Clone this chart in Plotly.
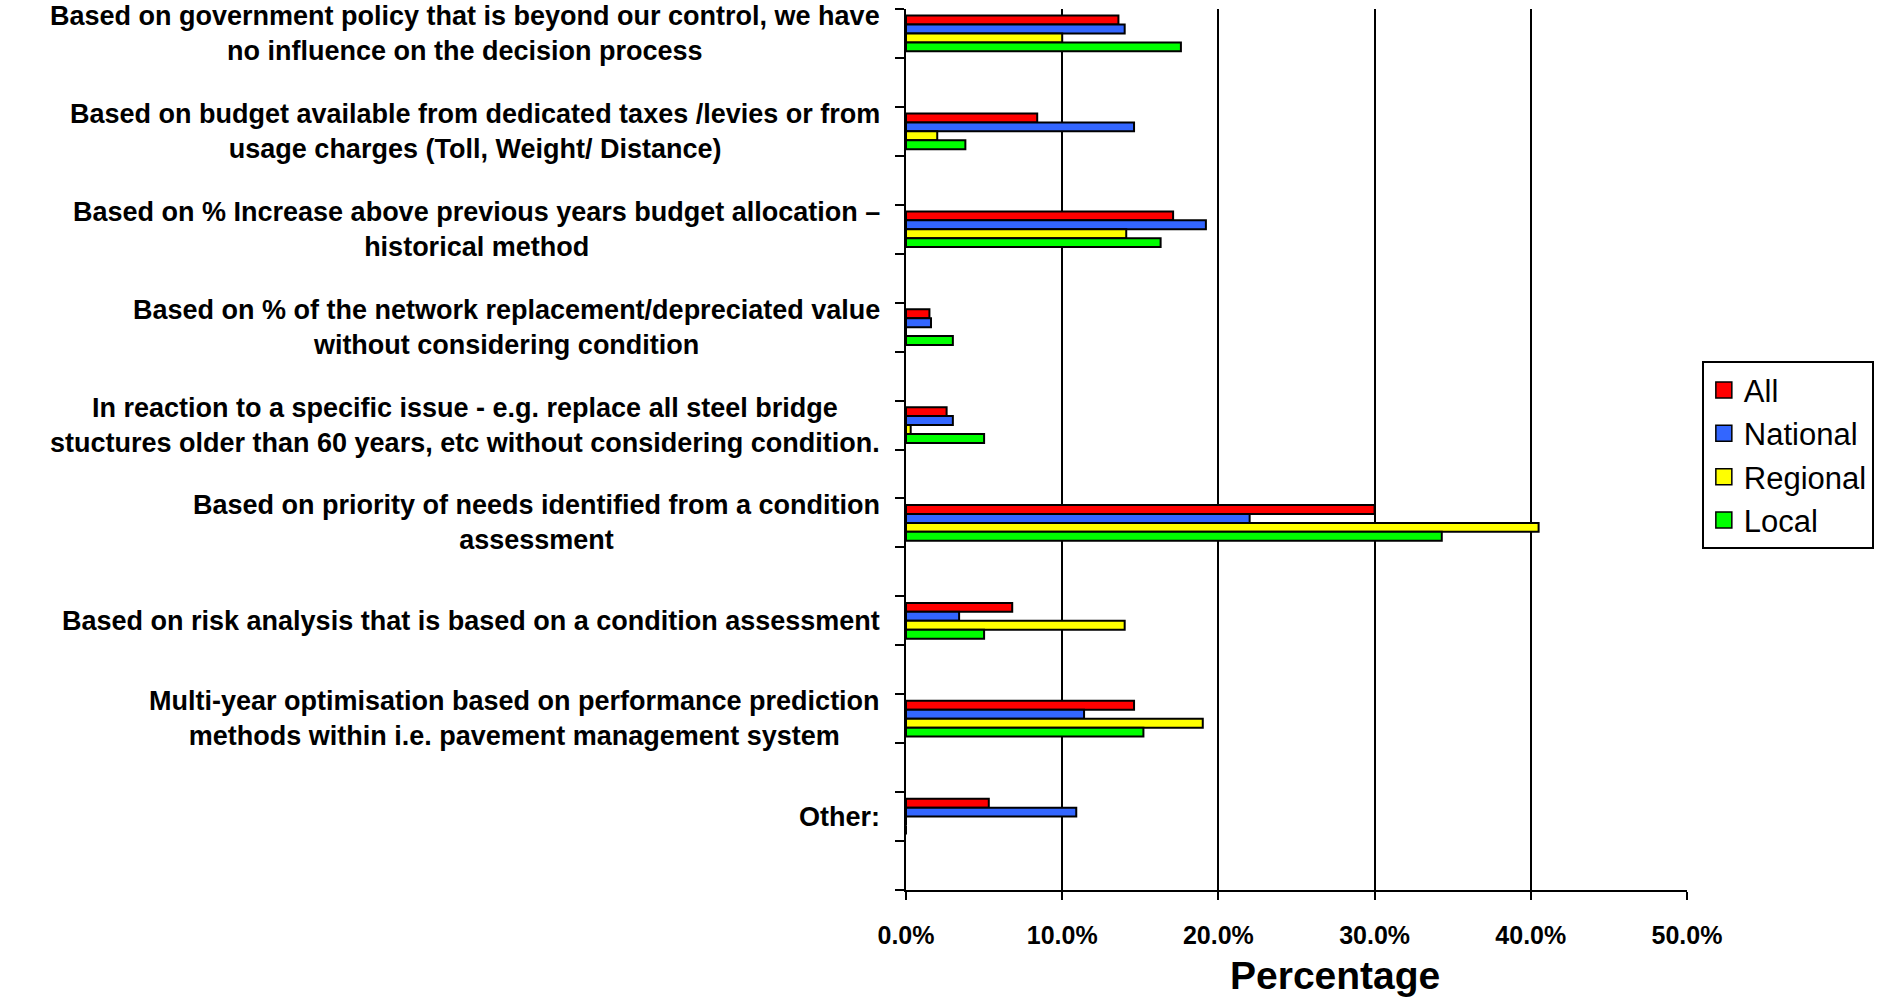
import plotly.graph_objects as go

# Budget allocation methods (one bar group per method)
methods = [
    "Based on government policy that is beyond our control, we have<br>no influence on the decision process",
    "Based on budget available from dedicated taxes /levies or from<br>usage charges (Toll, Weight/ Distance)",
    "Based on % Increase above previous years budget allocation –<br>historical method",
    "Based on % of the network replacement/depreciated value<br>without considering condition",
    "In reaction to a specific issue - e.g. replace all steel bridge<br>stuctures older than 60 years, etc without considering condition.",
    "Based on priority of needs identified from a condition<br>assessment",
    "Based on risk analysis that is based on a condition assessment",
    "Multi-year optimisation based on performance prediction<br>methods within i.e. pavement management system",
    "Other:",
]

# Share of respondents (%) per road-authority level
all_pct      = [13.6, 8.4, 17.1, 1.5, 2.6, 30.0, 6.8, 14.6, 5.3]
national_pct = [14.0, 14.6, 19.2, 1.6, 3.0, 22.0, 3.4, 11.4, 10.9]
regional_pct = [10.0, 2.0, 14.1, 0.0, 0.3, 40.5, 14.0, 19.0, 0.0]
local_pct    = [17.6, 3.8, 16.3, 3.0, 5.0, 34.3, 5.0, 15.2, 0.0]

series_names = ["All", "National", "Regional", "Local"]
series_values = [all_pct, national_pct, regional_pct, local_pct]
series_colors = ["#FF0000", "#3366FF", "#FFFF00", "#00FF00"]

x_ticks = [0, 10, 20, 30, 40, 50]
x_ticktext = [f"{v:.1f}%" for v in x_ticks]

FONT = "Liberation Sans, Arial, sans-serif"

# each method occupies a slot, with an empty slot after it
slots = [2 * i for i in range(len(methods))]
n_slots = 2 * len(methods)

fig = go.Figure()
for name, vals, col in zip(series_names, series_values, series_colors):
    fig.add_trace(go.Bar(
        y=slots, x=vals, orientation="h", name=name,
        marker=dict(color=col, line=dict(color="black", width=2)),
        showlegend=False,
    ))
    # legend entry with a larger swatch
    fig.add_trace(go.Scatter(
        x=[None], y=[None], mode="markers", name=name,
        marker=dict(symbol="square", size=16, color=col,
                    line=dict(color="black", width=1.5)),
    ))

# category labels, centred lines, right-aligned against the axis
for s, label in zip(slots, methods):
    fig.add_annotation(
        x=0, xref="paper", y=s, yref="y", text=label, showarrow=False,
        xanchor="right", yanchor="middle", align="center", xshift=-24,
        font=dict(family=FONT, size=27, color="black", weight="bold"),
    )

# axis title
fig.add_annotation(
    x=0.549, xref="paper", y=0, yref="paper", yshift=-85, text="Percentage",
    showarrow=False, xanchor="center", yanchor="middle",
    font=dict(family=FONT, size=39, color="black", weight="bold"),
)

boundaries = [b - 0.5 for b in range(n_slots + 1)]

fig.update_layout(
    width=1891, height=999,
    margin=dict(l=906, r=204, t=9, b=109),
    paper_bgcolor="white", plot_bgcolor="white",
    barmode="group", bargap=0.635, bargroupgap=0,
    font=dict(family=FONT, color="black"),
    legend=dict(
        x=1.019, y=0.600, xanchor="left", yanchor="top",
        bgcolor="white", bordercolor="black", borderwidth=2,
        font=dict(family=FONT, size=31, color="black"),
        tracegroupgap=0, itemwidth=30,
    ),
    xaxis=dict(
        range=[0, 50], tickmode="array", tickvals=x_ticks, ticktext=x_ticktext,
        showgrid=True, gridcolor="black", gridwidth=2, zeroline=False,
        showline=True, linecolor="black", linewidth=2,
        ticks="outside", ticklen=8, tickwidth=2, tickcolor="black",
        ticklabelstandoff=14,
        tickfont=dict(family=FONT, size=25, color="black", weight="bold"),
    ),
    yaxis=dict(
        range=[n_slots - 0.5, -0.5], showgrid=False, zeroline=False,
        showline=True, linecolor="black", linewidth=2,
        tickmode="array", tickvals=boundaries, ticktext=[""] * len(boundaries),
        ticks="outside", ticklen=9, tickwidth=2, tickcolor="black",
        showticklabels=False,
    ),
)

fig.write_html("out.html")
